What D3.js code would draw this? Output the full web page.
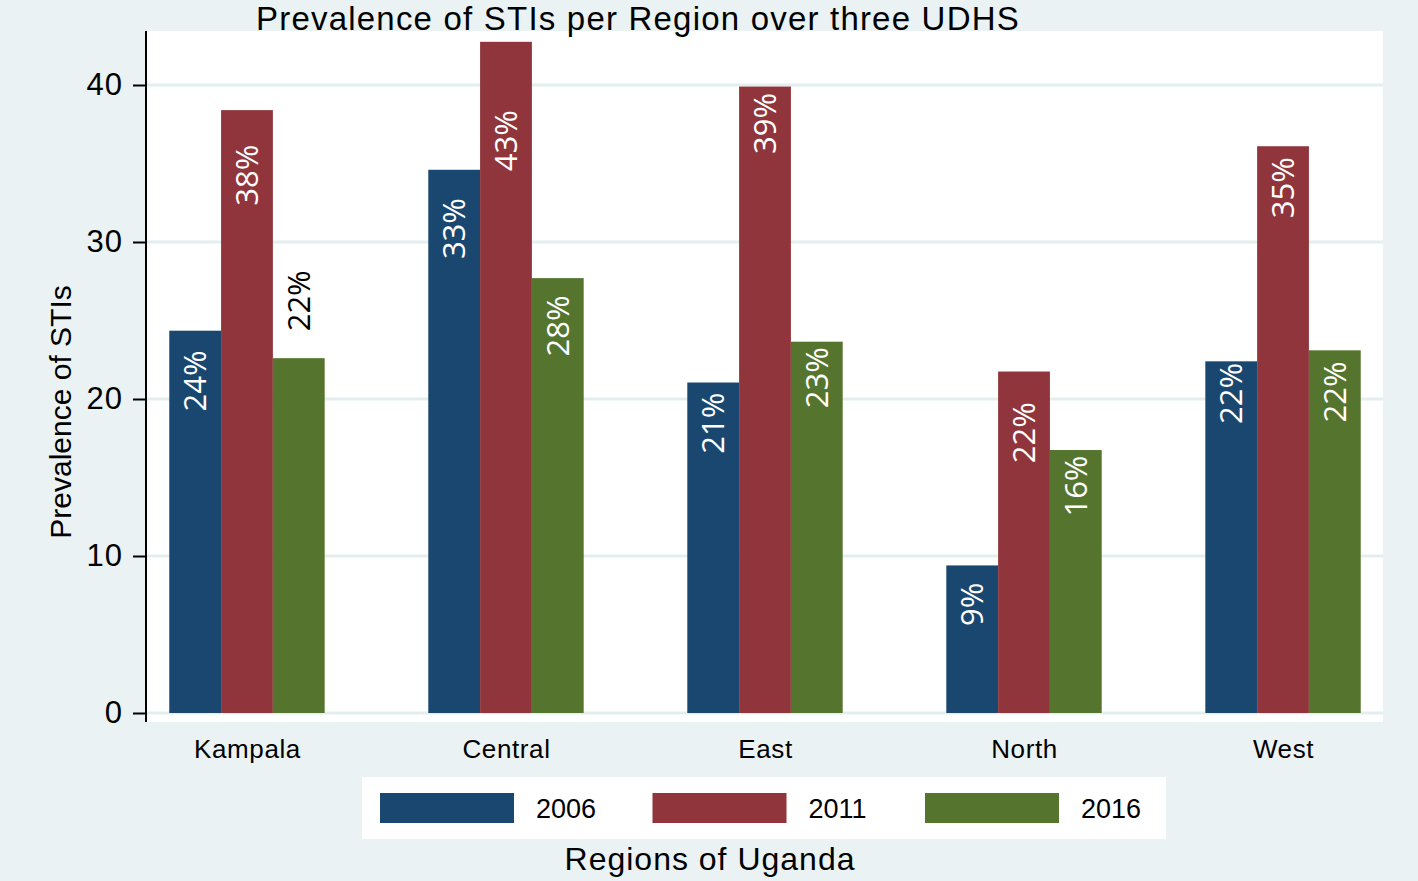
<!DOCTYPE html>
<html><head><meta charset="utf-8">
<script src="https://cdn.jsdelivr.net/npm/d3@7"></script>
<style>html,body{margin:0;padding:0;background:#eaf2f3;}svg{display:block;}</style>
</head><body>
<script>
const regions = ["Kampala", "Central", "East", "North", "West"];
const years = ["2006", "2011", "2016"];
const colors = ["#1a476f", "#90353b", "#55752f"];
// bar heights per region: [2006, 2011, 2016]
const values = [
  [24.35, 38.4, 22.6],
  [34.6, 42.75, 27.7],
  [21.05, 39.9, 23.65],
  [9.4, 21.75, 16.75],
  [22.4, 36.1, 23.1]
];
// printed labels on the bars
const labels = [
  ["24%", "38%", "22%"],
  ["33%", "43%", "28%"],
  ["21%", "39%", "23%"],
  ["9%", "22%", "16%"],
  ["22%", "35%", "22%"]
];
// y value at which each label ends (top of the text)
const labelAt = [
  [23.1, 36.2, 28.2],
  [32.8, 38.4, 26.6],
  [20.4, 39.5, 23.3],
  [8.3, 19.8, 16.4],
  [22.3, 35.4, 22.4]
];
const yTicks = [0, 10, 20, 30, 40];
const title = "Prevalence of STIs per Region over three UDHS";
const yTitle = "Prevalence of STIs";
const xTitle = "Regions of Uganda";

const W = 1418, H = 881;
const svg = d3.select("body").append("svg").attr("width", W).attr("height", H);
svg.append("rect").attr("width", W).attr("height", H).attr("fill", "#eaf2f3");

const plot = {left: 147, right: 1383, top: 31, bottom: 722};
const y = d3.scaleLinear().domain([0, 40]).range([713, 85]);
const x = d3.scalePoint().domain(regions).range([plot.left, plot.right]).padding(0.386);
const groupW = x.step() * 0.6;
const xb = d3.scaleBand().domain(years).range([-groupW / 2, groupW / 2]).padding(0);
const font = "'Liberation Sans', Arial, sans-serif";

svg.append("rect").attr("x", plot.left).attr("y", plot.top)
  .attr("width", plot.right - plot.left).attr("height", plot.bottom - plot.top).attr("fill", "#fff");

// gridlines
svg.append("g").selectAll("line").data(yTicks).join("line")
  .attr("x1", plot.left).attr("x2", plot.right)
  .attr("y1", d => y(d)).attr("y2", d => y(d))
  .attr("stroke", "#e4eeee").attr("stroke-width", 3);

// bars
const groups = svg.append("g").selectAll("g").data(regions).join("g")
  .attr("transform", d => `translate(${x(d)},0)`);
groups.each(function(r, i) {
  const g = d3.select(this);
  years.forEach((yr, j) => {
    g.append("rect")
      .attr("x", xb(yr)).attr("width", xb.bandwidth())
      .attr("y", y(values[i][j])).attr("height", y(0) - y(values[i][j]))
      .attr("fill", colors[j]);
  });
  years.forEach((yr, j) => {
    const cx = xb(yr) + xb.bandwidth() / 2;
    const inside = labelAt[i][j] <= values[i][j] + 0.5;
    g.append("text")
      .attr("transform", `translate(${cx},${y(labelAt[i][j])}) rotate(-90)`)
      .attr("text-anchor", "end").attr("dy", "0.36em")
      .attr("font-family", "'Open Sans', sans-serif").attr("font-size", 31)
      .attr("fill", inside ? "#fff" : "#000")
      .text(labels[i][j]);
  });
});

// y axis
const yAxis = d3.axisLeft(y).tickValues(yTicks).tickSize(13).tickPadding(10).tickSizeOuter(0);
const ya = svg.append("g").attr("transform", `translate(${plot.left - 1},0)`).call(yAxis);
ya.select(".domain").remove();
ya.selectAll(".tick line").attr("stroke", "#000").attr("stroke-width", 2);
ya.selectAll(".tick text").attr("font-family", font).attr("font-size", 31).attr("fill", "#000")
  .style("letter-spacing", "1px");
svg.append("line").attr("x1", plot.left - 1).attr("x2", plot.left - 1)
  .attr("y1", plot.top).attr("y2", plot.bottom).attr("stroke", "#000").attr("stroke-width", 2);

// x axis labels
const xAxis = d3.axisBottom(x).tickSize(0).tickPadding(0);
const xa = svg.append("g").attr("transform", `translate(0,739)`).call(xAxis);
xa.select(".domain").remove();
xa.selectAll(".tick text").attr("font-family", font).attr("font-size", 26).attr("fill", "#000")
  .attr("dy", "0.73em").style("letter-spacing", "0.6px");

// titles
svg.append("text").attr("x", 638).attr("y", 30).attr("text-anchor", "middle")
  .attr("font-family", font).attr("font-size", 33).attr("fill", "#000")
  .style("letter-spacing", "1.2px").text(title);
svg.append("text").attr("transform", "translate(71,412) rotate(-90)").attr("text-anchor", "middle")
  .attr("font-family", font).attr("font-size", 30).attr("fill", "#000").text(yTitle);
svg.append("text").attr("x", 710).attr("y", 870).attr("text-anchor", "middle")
  .attr("font-family", font).attr("font-size", 32).attr("fill", "#000")
  .style("letter-spacing", "1px").text(xTitle);

// legend
const lg = svg.append("g");
lg.append("rect").attr("x", 362).attr("y", 777).attr("width", 804).attr("height", 62).attr("fill", "#fff");
years.forEach((yr, j) => {
  const lx = 380 + j * 272.5;
  lg.append("rect").attr("x", lx).attr("y", 793).attr("width", 134).attr("height", 30).attr("fill", colors[j]);
  lg.append("text").attr("x", lx + 156).attr("y", 818).attr("font-family", font)
    .attr("font-size", 27).attr("fill", "#000").text(yr);
});
</script>
</body></html>
